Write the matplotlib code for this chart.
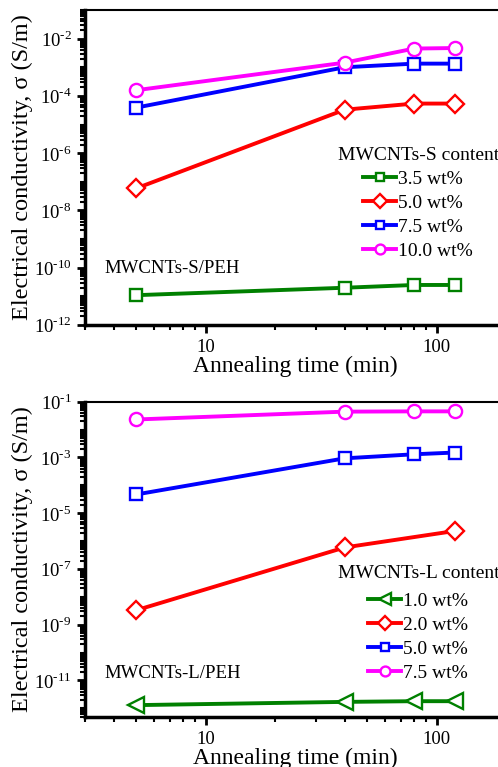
import matplotlib
matplotlib.use("Agg")
import matplotlib.pyplot as plt
from matplotlib.ticker import LogLocator, NullFormatter, FixedLocator, FuncFormatter
import numpy as np

plt.rcParams["font.family"] = ["Liberation Serif", "DejaVu Serif"]
plt.rcParams["mathtext.fontset"] = "custom"
plt.rcParams["mathtext.rm"] = "Liberation Serif"

# === data ===
time_s = [5, 40, 80, 120]
s_labels = ["3.5 wt%", "5.0 wt%", "7.5 wt%", "10.0 wt%"]
s_35 = [1.1e-11, 2.0e-11, 2.5e-11, 2.5e-11]
s_50 = [5.9e-8, 3.3e-5, 5.4e-5, 5.4e-5]
s_75 = [3.9e-5, 1.0e-3, 1.34e-3, 1.34e-3]
s_100 = [1.58e-4, 1.45e-3, 4.5e-3, 4.7e-3]

time_l = [5, 40, 80, 120]
time_l_red = [5, 40, 120]
l_labels = ["1.0 wt%", "2.0 wt%", "5.0 wt%", "7.5 wt%"]
l_10 = [1.3e-12, 1.7e-12, 1.8e-12, 1.8e-12]
l_20 = [3.3e-9, 5.9e-7, 2.3e-6]
l_50 = [4.7e-5, 9.3e-4, 1.3e-3, 1.5e-3]
l_75 = [2.3e-2, 4.4e-2, 4.5e-2, 4.5e-2]

colors = ["#008000", "#ff0000", "#0000ff", "#ff00ff"]

fig = plt.figure(figsize=(4.98, 7.67), dpi=100)
W, H = 498, 767


def px_axes(left, top, right, bottom):
    return fig.add_axes([left / W, 1 - bottom / H, (right - left) / W, (bottom - top) / H])


def y_fmt(v, pos):
    e = int(round(np.log10(v)))
    return r"10$^{\text{%d}}$" % e


def style_axes(ax, ymin, ymax):
    ax.set_xscale("log")
    ax.set_yscale("log")
    ax.set_xlim(3, 200)
    ax.set_ylim(ymin, ymax)
    ax.yaxis.set_major_locator(LogLocator(base=100))
    ax.yaxis.set_minor_locator(LogLocator(base=10, subs=range(1, 10), numticks=30))
    ax.yaxis.set_major_formatter(FuncFormatter(y_fmt))
    ax.yaxis.set_minor_formatter(NullFormatter())
    ax.xaxis.set_major_formatter(FuncFormatter(lambda v, p: "%g" % v))
    ax.xaxis.set_minor_formatter(NullFormatter())
    ax.tick_params(which="major", direction="out", length=6, width=2, labelsize=13.5)
    ax.tick_params(which="minor", direction="out", length=3.5, width=1.5)
    ax.tick_params(axis="x", pad=4)
    for side in ["left", "bottom"]:
        ax.spines[side].set_linewidth(2.5)
    ax.spines["top"].set_linewidth(1.5)
    ax.spines["right"].set_linewidth(1.5)
    ax.set_xlabel("Annealing time (min)", fontsize=17, labelpad=0)
    ax.set_ylabel("Electrical conductivity, σ (S/m)", fontsize=17.5, labelpad=1)


kw = dict(lw=2.8, mfc="white", mew=1.7)
leg_kw = dict(loc="upper left", frameon=False, fontsize=14, title_fontsize=14,
              handlelength=1.7, handletextpad=0.1, labelspacing=0.33, borderpad=0,
              borderaxespad=0, markerscale=0.75)

# ==========================================
# 1. MWCNTs-S
# ==========================================
ax1 = px_axes(85, 10, 506, 325)
ax1.plot(time_s, s_35, "s-", color=colors[0], ms=8.5, label=s_labels[0], **kw)
ax1.plot(time_s, s_50, "D-", color=colors[1], ms=9.5, label=s_labels[1], **kw)
ax1.plot(time_s, s_75, "s-", color=colors[2], ms=8.5, label=s_labels[2], **kw)
ax1.plot(time_s, s_100, "o-", color=colors[3], ms=9.5, label=s_labels[3], **kw)
style_axes(ax1, 1e-12, 1e-1)
ax1.text(0.047, 0.165, "MWCNTs-S/PEH", transform=ax1.transAxes, fontsize=13.5)
ax1.legend(title="MWCNTs-S content", bbox_to_anchor=(0.6, 0.565), **leg_kw)

# ==========================================
# 2. MWCNTs-L
# ==========================================
ax2 = px_axes(85, 401.7, 506, 716.7)
ax2.plot(time_l, l_10, "<-", color=colors[0], ms=11, label=l_labels[0], **kw)
ax2.plot(time_l_red, l_20, "D-", color=colors[1], ms=9.5, label=l_labels[1], **kw)
ax2.plot(time_l, l_50, "s-", color=colors[2], ms=8.5, label=l_labels[2], **kw)
ax2.plot(time_l, l_75, "o-", color=colors[3], ms=9.5, label=l_labels[3], **kw)
style_axes(ax2, 5e-13, 1e-1)
ax2.yaxis.set_major_locator(FixedLocator([1e-11, 1e-9, 1e-7, 1e-5, 1e-3, 1e-1]))
ax2.text(0.047, 0.123, "MWCNTs-L/PEH", transform=ax2.transAxes, fontsize=13.5)
leg2 = ax2.legend(title="MWCNTs-L content", bbox_to_anchor=(0.6, 0.48), **leg_kw)
leg2._legend_box.sep = 7

fig.savefig("out.png", dpi=100)
